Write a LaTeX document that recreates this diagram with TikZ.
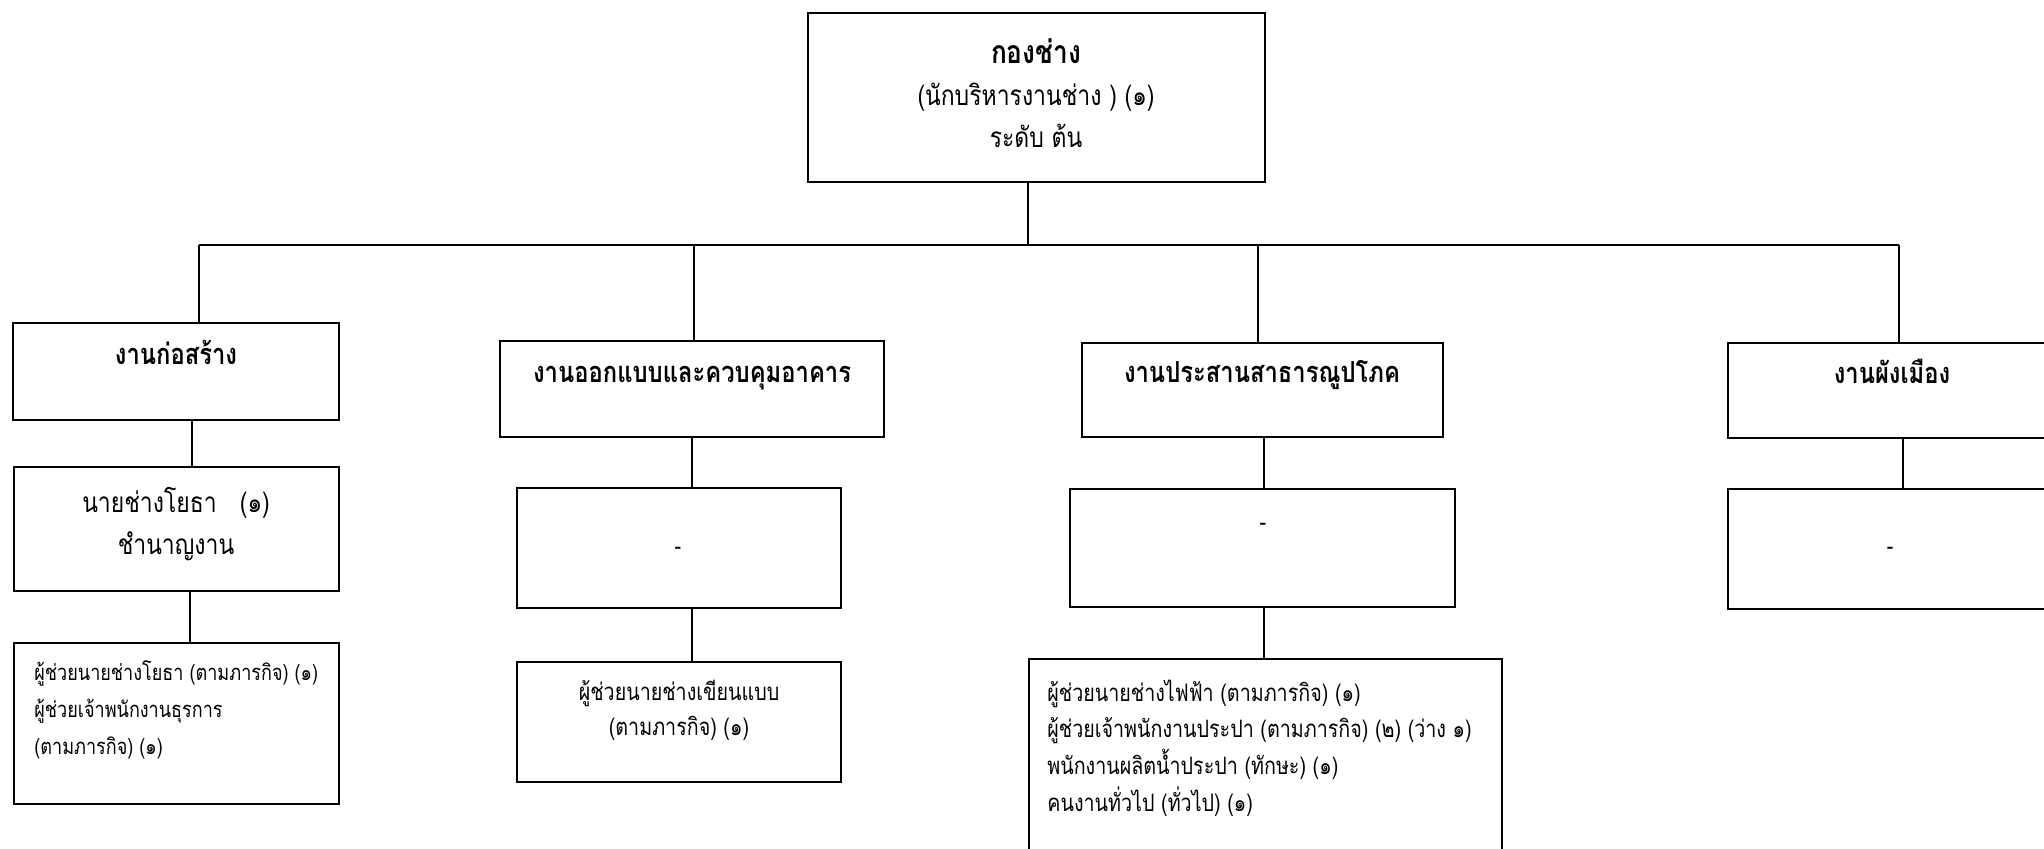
\documentclass[tikz,border=0pt]{standalone}
\usepackage{fontspec}
\setmainfont[Script=Thai, FakeStretch=0.82]{Loma}
\usetikzlibrary{fit}
\tikzset{
  x=0.5pt, y=-0.5pt,
  box/.style={draw, line width=1pt, inner sep=0pt},
  link/.style={line width=0.8pt},
  head/.style={font=\fontsize{14.5}{21}\selectfont\bfseries, inner sep=0pt, anchor=base},
  body/.style={font=\fontsize{14}{21}\selectfont, inner sep=0pt, align=center},
  small/.style={font=\fontsize{12}{18.3}\selectfont, inner sep=0pt},
}
\begin{document}
\begin{tikzpicture}
\useasboundingbox (0,0) rectangle (2044,849);
\clip (0,0) rectangle (2044,849);

% head of the division
\node[box, fit={(808,13) (1265,182)}] (top) {};
\node[body] (toptext) at (1036,93) {{\fontsize{16}{21}\selectfont\bfseries กองช่าง}\\(นักบริหารงานช่าง ) (๑)\\ระดับ ต้น};

% section boxes
\node[box, fit={(13,323) (339,420)}] (k1) {};
\node[head] (k1t) at (176,365) {งานก่อสร้าง};
\node[box, fit={(500,341) (884,437)}] (k2) {};
\node[head] (k2t) at (692,383) {งานออกแบบและควบคุมอาคาร};
\node[box, fit={(1082,343) (1443,437)}] (k3) {};
\node[head] (k3t) at (1262,383) {งานประสานสาธารณูปโภค};
\node[box, fit={(1728,343) (2100,438)}] (k4) {};
\node[head] (k4t) at (1892,384) {งานผังเมือง};

% second level
\node[box, fit={(14,467) (339,591)}] (n1) {};
\node[body] (n1t) at (176,524) {นายช่างโยธา \ \ (๑)\\ชำนาญงาน};
\node[box, fit={(517,488) (841,608)}] (n2) {};
\node[small] (n2t) at (678,551) {-};
\node[box, fit={(1070,489) (1455,607)}] (n3) {};
\node[small] (n3t) at (1263,527) {-};
\node[box, fit={(1728,489) (2100,609)}] (n4) {};
\node[small] (n4t) at (1890,551) {-};

% third level
\node[box, fit={(14,643) (339,804)}] (p1) {};
\node[small, align=left, anchor=west, font=\fontsize{11}{18.3}\selectfont] (p1t) at (34,710) {ผู้ช่วยนายช่างโยธา (ตามภารกิจ) (๑)\\ผู้ช่วยเจ้าพนักงานธุรการ\\(ตามภารกิจ) (๑)};
\node[box, fit={(517,662) (841,782)}] (p2) {};
\node[small, align=center, font=\fontsize{12}{17.5}\selectfont] (p2t) at (679,710) {ผู้ช่วยนายช่างเขียนแบบ\\(ตามภารกิจ) (๑)};
\node[box, fit={(1029,659) (1502,880)}] (p3) {};
\node[small, align=left, anchor=west] (p3t) at (1047,748) {ผู้ช่วยนายช่างไฟฟ้า (ตามภารกิจ) (๑)\\ผู้ช่วยเจ้าพนักงานประปา (ตามภารกิจ) (๒) (ว่าง ๑)\\พนักงานผลิตน้ำประปา (ทักษะ) (๑)\\คนงานทั่วไป (ทั่วไป) (๑)};

% branching bar
\coordinate (hub) at (1028,245);
\coordinate (b1) at (199,245);
\coordinate (b2) at (694,245);
\coordinate (b3) at (1258,245);
\coordinate (b4) at (1899,245);
\draw[line width=1pt] (b1) -- (b4);
\draw[link] (top.south -| hub) -- (hub);
\draw[link] (b1) -- (b1 |- k1.north);
\draw[link] (b2) -- (b2 |- k2.north);
\draw[link] (b3) -- (b3 |- k3.north);
\draw[link] (b4) -- (b4 |- k4.north);

% links between levels
\coordinate (c1) at (192,0);
\coordinate (c1b) at (190,0);
\coordinate (c2) at (692,0);
\coordinate (c3) at (1264,0);
\coordinate (c4) at (1903,0);
\draw[link] (k1.south -| c1) -- (n1.north -| c1);
\draw[link] (n1.south -| c1b) -- (p1.north -| c1b);
\draw[link] (k2.south -| c2) -- (n2.north -| c2);
\draw[link] (n2.south -| c2) -- (p2.north -| c2);
\draw[link] (k3.south -| c3) -- (n3.north -| c3);
\draw[link] (n3.south -| c3) -- (p3.north -| c3);
\draw[link] (k4.south -| c4) -- (n4.north -| c4);
\end{tikzpicture}
\end{document}
